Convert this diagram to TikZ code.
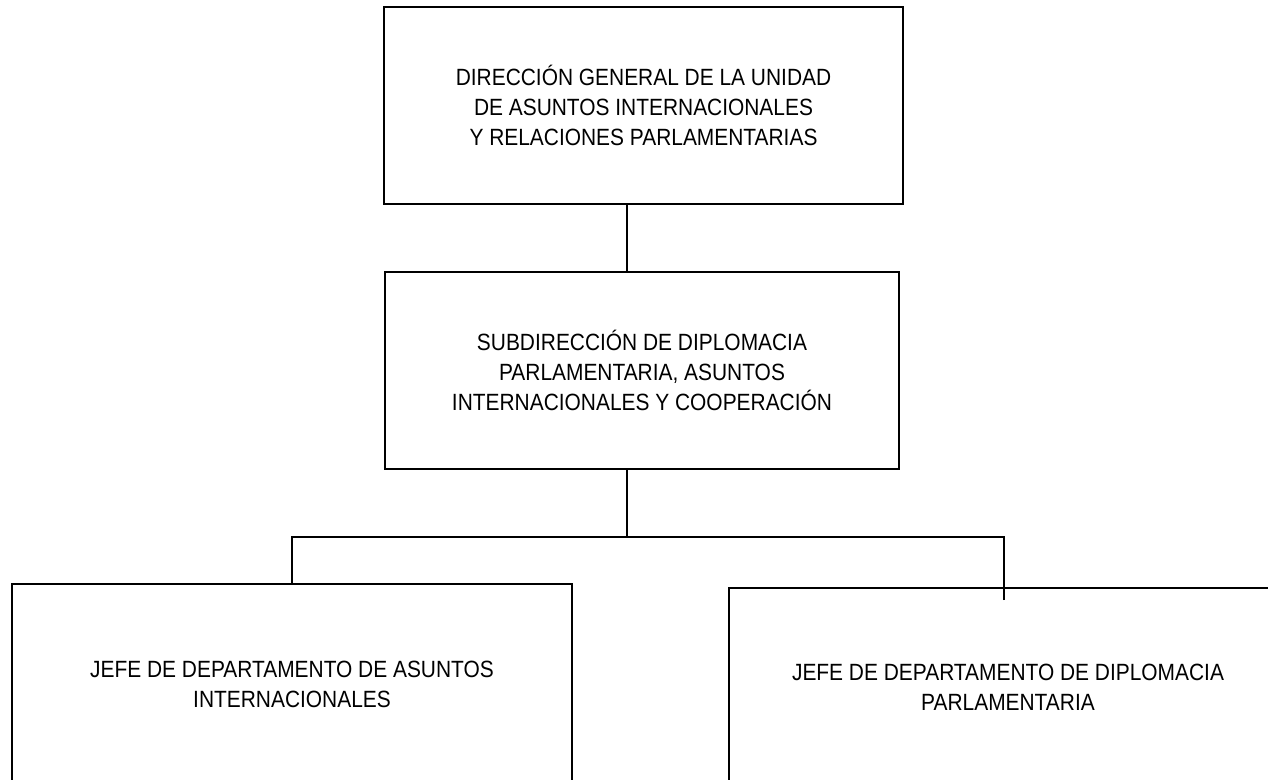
\documentclass[tikz,border=0pt]{standalone}
\usepackage{fontspec}
\setmainfont{Liberation Sans}[FakeStretch=0.89]
\begin{document}
\begin{tikzpicture}[x=1pt, y=-1pt, line width=1.5pt,
  cargo/.style={rectangle, draw, fill=white, align=center, inner sep=0pt,
    font=\fontsize{23.5}{30}\selectfont}]
                \useasboundingbox (0,0) rectangle (1268,779);
                \node[cargo, minimum width=519, minimum height=197] (dir) at (643.5,105.5) {DIRECCIÓN GENERAL DE LA UNIDAD\\DE ASUNTOS INTERNACIONALES\\ Y RELACIONES PARLAMENTARIAS};
                \node[cargo, minimum width=514, minimum height=197] (sub) at (642,370.5) {SUBDIRECCIÓN DE DIPLOMACIA\\PARLAMENTARIA, ASUNTOS\\INTERNACIONALES Y COOPERACIÓN};
                \node[cargo, minimum width=560, minimum height=200] (jai) at (292,684) {JEFE DE DEPARTAMENTO DE ASUNTOS\\INTERNACIONALES};
                \node[cargo, minimum width=558, minimum height=198] (jdp) at (1008,687) {JEFE DE DEPARTAMENTO DE DIPLOMACIA\\PARLAMENTARIA};
                \coordinate (ramal) at (627,537);
                \coordinate (fin) at (1004,600);
                \draw (dir.south -| ramal) -- (sub.north -| ramal);
                \draw (sub.south -| ramal) -- (ramal);
                \draw (jai.north) |- (ramal);
                \draw (fin) |- (ramal);
                \end{tikzpicture}
\end{document}
